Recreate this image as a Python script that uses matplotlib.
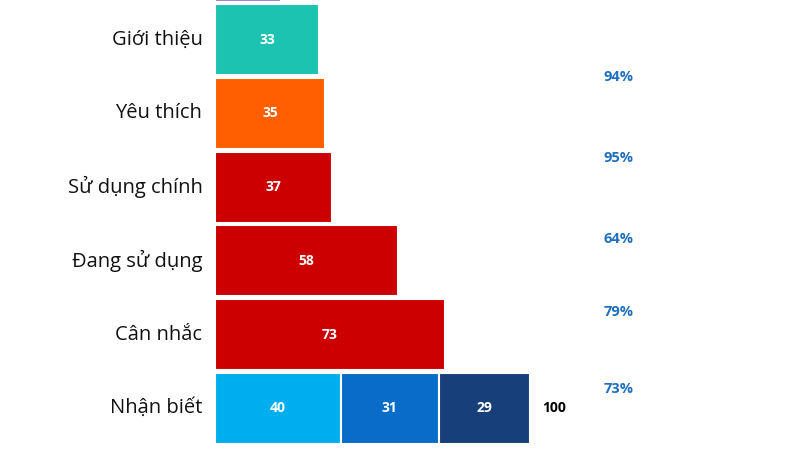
import matplotlib
matplotlib.use("Agg")
import matplotlib.pyplot as plt

stages = ["Nhận biết", "Cân nhắc", "Đang sử dụng", "Sử dụng chính", "Yêu thích", "Giới thiệu", ""]
values = [None, 73, 58, 37, 35, 33, 21]
stage_colors = [None, "#cc0000", "#cc0000", "#cc0000", "#ff5f00", "#1cc3b0", "#9b7fd0"]
aware_parts = [40, 31, 29]
aware_colors = ["#00aeef", "#0a6cc9", "#173f7a"]
aware_total = 100
conv_rates = ["73%", "79%", "64%", "95%", "94%"]
conv_pos = [0.26, 1.3, 2.3, 3.4, 4.5]

fig = plt.figure(figsize=(8, 4.5), dpi=100)
ax = fig.add_axes([215 / 800, 0, 1 - 215 / 800, 1])
ax.set_xlim(0, 585 / 3.15)
ax.set_ylim(-42 / 74, 410 / 74)
ax.axis("off")

h = 0.96
left = 0
for v, c in zip(aware_parts, aware_colors):
    ax.barh(0, v, left=left, height=h, color=c, edgecolor="white", linewidth=1.5)
    ax.text(left + v / 2, 0, str(v), ha="center", va="center", color="white",
            fontsize=10, fontweight="bold", family="Open Sans")
    left += v
ax.text(aware_total + 4, 0, str(aware_total), ha="left", va="center", color="black",
        fontsize=10, fontweight="bold", family="Open Sans")

for i in range(1, len(stages)):
    ax.barh(i, values[i], height=h, color=stage_colors[i], edgecolor="white", linewidth=1.5)
    if stages[i]:
        ax.text(values[i] / 2, i, str(values[i]), ha="center", va="center", color="white",
                fontsize=10, fontweight="bold", family="Open Sans")

for i, s in enumerate(stages):
    if s:
        ax.text(-4, i, s, ha="right", va="center", fontsize=14.5, family="Open Sans",
                color="#111111", clip_on=False)

for p, y in zip(conv_rates, conv_pos):
    ax.text(128, y, p, ha="center", va="center", color="#1f6fbf",
            fontsize=10.5, fontweight="bold", family="Open Sans")

fig.savefig("out.png", dpi=100)
